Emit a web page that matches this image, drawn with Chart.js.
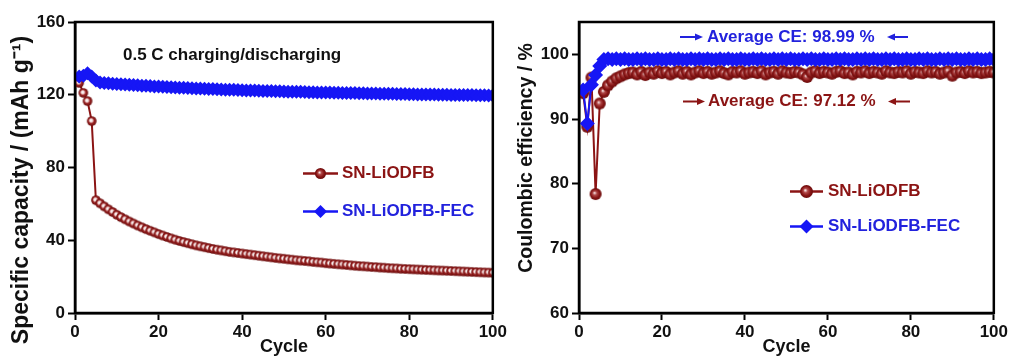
<!DOCTYPE html>
<html>
<head>
<meta charset="utf-8">
<script src="https://cdn.jsdelivr.net/npm/chart.js@4.4.1/dist/chart.umd.min.js"></script>
<style>
  html, body { margin:0; padding:0; background:#fff; }
  #wrap { position:relative; width:1010px; height:358px; overflow:hidden; }
  .box { position:absolute; top:0; height:358px; }
</style>
</head>
<body>
<div id="wrap">
  <div class="box" style="left:0;width:509px"><canvas id="c1" width="509" height="358"></canvas></div>
  <div class="box" style="left:505px;width:505px"><canvas id="c2" width="505" height="358"></canvas></div>
</div>
<script>
// ---------------- DATA ----------------
const cycles = [1,2,3,4,5,6,7,8,9,10,11,12,13,14,15,16,17,18,19,20,
21,22,23,24,25,26,27,28,29,30,31,32,33,34,35,36,37,38,39,40,
41,42,43,44,45,46,47,48,49,50,51,52,53,54,55,56,57,58,59,60,
61,62,63,64,65,66,67,68,69,70,71,72,73,74,75,76,77,78,79,80,
81,82,83,84,85,86,87,88,89,90,91,92,93,94,95,96,97,98,99,100];

const seriesNames = ['SN-LiODFB', 'SN-LiODFB-FEC'];

const capacityRed = [126.5,121.0,116.5,105.5,62.0,60.3,58.6,57.0,55.5,54.0,
52.7,51.5,50.3,49.2,48.1,47.1,46.1,45.2,44.3,43.4,
42.6,41.8,41.0,40.3,39.6,39.0,38.4,37.8,37.2,36.7,
36.2,35.7,35.2,34.8,34.4,34.0,33.6,33.3,33.0,32.7,
32.4,32.1,31.8,31.5,31.2,30.9,30.6,30.3,30.0,29.8,
29.5,29.3,29.0,28.8,28.6,28.4,28.1,27.9,27.7,27.4,
27.2,27.0,26.8,26.6,26.4,26.2,26.0,25.8,25.7,25.5,
25.3,25.2,25.0,24.9,24.7,24.6,24.5,24.3,24.2,24.1,
24.0,23.9,23.8,23.7,23.6,23.5,23.4,23.3,23.2,23.1,
23.0,22.9,22.8,22.7,22.6,22.5,22.4,22.3,22.2,22.1];

const capacityBlue = [130.0,130.5,131.8,130.0,127.8,126.8,126.5,126.3,126.1,125.9,
125.8,125.6,125.5,125.3,125.2,125.0,124.9,124.8,124.6,124.5,
124.4,124.3,124.1,124.0,123.9,123.8,123.7,123.6,123.5,123.4,
123.3,123.2,123.1,123.0,122.9,122.8,122.8,122.7,122.6,122.5,
122.4,122.4,122.3,122.2,122.1,122.1,122.0,121.9,121.9,121.8,
121.7,121.7,121.6,121.6,121.5,121.4,121.4,121.3,121.3,121.2,
121.2,121.1,121.1,121.0,121.0,120.9,120.9,120.8,120.8,120.7,
120.7,120.7,120.6,120.6,120.5,120.5,120.4,120.4,120.4,120.3,
120.3,120.2,120.2,120.2,120.1,120.1,120.0,120.0,120.0,119.9,
119.9,119.9,119.8,119.8,119.8,119.7,119.7,119.7,119.6,119.6];

const ceRed = [94.0,88.8,96.4,78.4,92.4,94.2,95.2,95.8,96.3,96.6,
96.9,97.1,97.2,96.9,97.3,96.8,97.2,97.0,97.4,97.1,
97.3,96.9,97.2,97.4,97.0,97.3,96.9,97.2,97.4,97.1,
97.3,97.0,97.2,97.4,97.1,96.9,97.3,97.2,97.4,97.0,
97.2,97.3,97.1,97.4,96.9,97.2,97.3,97.0,97.4,97.2,
97.1,97.3,97.2,96.9,96.5,97.2,97.4,97.1,97.3,97.2,
97.0,97.3,97.4,97.1,97.2,96.9,97.3,97.2,97.4,97.1,
97.3,97.2,97.0,97.4,97.2,97.1,97.3,97.2,97.4,97.0,
97.3,97.2,97.1,97.4,97.2,97.3,97.0,97.2,97.4,96.7,
97.2,97.3,97.1,97.4,97.2,97.3,97.1,97.2,97.3,97.2];

const ceBlue = [94.5,89.3,95.3,96.8,98.2,99.2,99.3,99.2,99.3,99.2,
99.3,99.2,99.2,99.3,99.2,99.3,99.2,99.2,99.3,99.2,
99.2,99.3,99.2,99.3,99.2,99.2,99.3,99.2,99.3,99.2,
99.3,99.2,99.2,99.3,99.2,99.3,99.2,99.2,99.3,99.2,
99.2,99.3,99.2,99.3,99.2,99.2,99.3,99.2,99.3,99.2,
99.3,99.2,99.2,99.3,99.2,99.3,99.2,99.2,99.3,99.2,
99.2,99.3,99.2,99.3,99.2,99.2,99.3,99.2,99.3,99.2,
99.3,99.2,99.2,99.3,99.2,99.3,99.2,99.2,99.3,99.2,
99.2,99.3,99.2,99.3,99.2,99.2,99.3,99.2,99.3,99.2,
99.3,99.2,99.2,99.3,99.2,99.3,99.2,99.2,99.3,99.2];

const xTicks = [0, 20, 40, 60, 80, 100];
const capTicks = [0, 40, 80, 120, 160];
const ceTicks = [60, 70, 80, 90, 100];

// ---------------- STYLE ----------------
const RED = '#8b1414';
const BLUE = '#1616f5';
const BLUE_TXT = '#2222dd';
const FONT = "'Liberation Sans', Arial, Helvetica, sans-serif";

function sphere(r, light) {
  const s = Math.ceil(r * 2 + 2);
  const c = document.createElement('canvas');
  c.width = s; c.height = s;
  const g = c.getContext('2d');
  const cx = s / 2;
  const grad = g.createRadialGradient(cx - r * 0.2, cx - r * 0.2, r * 0.05, cx, cx, r);
  if (light) {
    grad.addColorStop(0, '#ffffff');
    grad.addColorStop(0.3, '#f0d4d4');
    grad.addColorStop(0.55, '#9e2626');
    grad.addColorStop(1, '#6a0c0c');
  } else {
    grad.addColorStop(0, '#f6e2e2');
    grad.addColorStop(0.3, '#b04848');
    grad.addColorStop(0.7, '#861414');
    grad.addColorStop(1, '#6a0c0c');
  }
  g.fillStyle = grad;
  g.beginPath(); g.arc(cx, cx, r, 0, Math.PI * 2); g.fill();
  return c;
}

function drawDiamond(ctx, x, y, r, color) {
  ctx.fillStyle = color;
  ctx.beginPath();
  ctx.moveTo(x, y - r); ctx.lineTo(x + r, y); ctx.lineTo(x, y + r); ctx.lineTo(x - r, y);
  ctx.closePath(); ctx.fill();
}

function drawArrow(ctx, x1, x2, y, color) {
  ctx.strokeStyle = color; ctx.fillStyle = color; ctx.lineWidth = 2;
  const dir = x2 > x1 ? 1 : -1;
  ctx.beginPath(); ctx.moveTo(x1, y); ctx.lineTo(x2 - dir * 6, y); ctx.stroke();
  ctx.beginPath(); ctx.moveTo(x2, y); ctx.lineTo(x2 - dir * 8, y - 3.5); ctx.lineTo(x2 - dir * 8, y + 3.5);
  ctx.closePath(); ctx.fill();
}

const decor = {
  id: 'decor',
  afterDraw(chart, args, o) {
    const ctx = chart.ctx, a = chart.chartArea;
    ctx.save();
    ctx.lineWidth = 2.5; ctx.strokeStyle = '#000';
    ctx.strokeRect(a.left, a.top, a.right - a.left, a.bottom - a.top);
    (o.arrows || []).forEach(ar => drawArrow(ctx, ar.x1, ar.x2, ar.y, ar.color));
    (o.texts || []).forEach(t => {
      ctx.font = t.font; ctx.fillStyle = t.color;
      ctx.textBaseline = 'middle'; ctx.textAlign = 'left';
      ctx.fillText(t.text, t.x, t.y);
    });
    if (o.yTitle) {
      const t = o.yTitle;
      ctx.save();
      ctx.translate(t.x, t.y); ctx.rotate(-Math.PI / 2);
      ctx.font = t.font; ctx.fillStyle = '#111';
      ctx.textAlign = 'center'; ctx.textBaseline = 'middle';
      ctx.fillText(t.text, 0, 0);
      ctx.restore();
    }
    (o.legend || []).forEach(l => {
      ctx.strokeStyle = l.color; ctx.lineWidth = 2.5;
      ctx.beginPath(); ctx.moveTo(l.x1, l.y); ctx.lineTo(l.x2, l.y); ctx.stroke();
      const mx = (l.x1 + l.x2) / 2;
      if (l.marker === 'sphere') {
        const img = sphere(l.r, false);
        ctx.drawImage(img, mx - img.width / 2, l.y - img.height / 2);
      } else {
        drawDiamond(ctx, mx, l.y, l.r, l.color);
      }
      ctx.font = 'bold 17px ' + FONT; ctx.fillStyle = l.textColor;
      ctx.textBaseline = 'middle'; ctx.textAlign = 'left';
      ctx.fillText(l.text, l.tx, l.y);
    });
    ctx.restore();
  }
};

function pts(vals) { return cycles.map((c, i) => ({ x: c, y: vals[i] })); }

function axisCommon() {
  return {
    border: { display: true, color: '#000', width: 2.5 },
    grid: { drawOnChartArea: false, drawTicks: true, tickLength: 7, tickWidth: 2, tickColor: '#000' },
  };
}

function makeChart(id, cfg) {
  const xAxis = Object.assign(axisCommon(), {
    type: 'linear', min: 0, max: 100,
    afterBuildTicks: s => { s.ticks = xTicks.map(v => ({ value: v })); },
    afterFit: s => { s.height = 45; },
    ticks: { color: '#111', font: { family: FONT, size: 17, weight: 'bold' }, padding: 2, maxRotation: 0 },
    title: { display: true, text: 'Cycle', color: '#111', font: { family: FONT, size: 18, weight: 'bold' }, padding: { top: 0, bottom: 0 } }
  });
  const yAxis = Object.assign(axisCommon(), {
    type: 'linear', min: cfg.ymin, max: cfg.ymax,
    afterBuildTicks: s => { s.ticks = cfg.yTicks.map(v => ({ value: v })); },
    afterFit: s => { s.width = cfg.yWidth; },
    ticks: { color: '#111', font: { family: FONT, size: 17, weight: 'bold' }, padding: 3 },
    title: { display: false }
  });
  return new Chart(document.getElementById(id), {
    type: 'line',
    data: {
      datasets: [
        {
          label: seriesNames[1], data: pts(cfg.blue), order: 0,
          borderColor: BLUE, borderWidth: 2, backgroundColor: BLUE,
          pointStyle: 'rectRot', pointRadius: cfg.blueR, pointBorderWidth: 0,
          pointBackgroundColor: BLUE, tension: 0
        },
        {
          label: seriesNames[0], data: pts(cfg.red), order: 1,
          borderColor: RED, borderWidth: 2, backgroundColor: RED,
          pointStyle: sphere(cfg.redR, cfg.lightRed), pointRadius: cfg.redR, tension: 0
        }
      ]
    },
    options: {
      responsive: false, animation: false,
      layout: { padding: { left: 0, right: cfg.padRight, top: 22, bottom: 0 } },
      scales: { x: xAxis, y: yAxis },
      plugins: { legend: { display: false }, tooltip: { enabled: false }, decor: cfg.decor }
    },
    plugins: [decor]
  });
}

makeChart('c1', {
  red: capacityRed, blue: capacityBlue, ymin: 0, ymax: 160, yTicks: capTicks,
  yWidth: 75, padRight: 13,
  redR: 4.8, blueR: 7, lightRed: true,
  decor: {
    yTitle: { text: 'Specific capacity / (mAh g\u207B\u00B9)', x: 22, y: 190, font: 'bold 23px ' + FONT },
    texts: [{ text: '0.5 C charging/discharging', x: 123, y: 55, color: '#111', font: 'bold 17px ' + FONT }],
    legend: [
      { x1: 303, x2: 338, y: 173.5, r: 5.5, marker: 'sphere', color: RED, textColor: RED, text: seriesNames[0], tx: 342 },
      { x1: 303, x2: 338, y: 211.5, r: 6.5, marker: 'diamond', color: BLUE, textColor: BLUE_TXT, text: seriesNames[1], tx: 342 }
    ]
  }
});

makeChart('c2', {
  red: ceRed, blue: ceBlue, ymin: 60, ymax: 105, yTicks: ceTicks,
  yWidth: 74, padRight: 16,
  redR: 6, blueR: 7.5, lightRed: false,
  decor: {
    yTitle: { text: 'Coulombic efficiency / %', x: 22, y: 158, font: 'bold 19.5px ' + FONT },
    texts: [
      { text: 'Average CE: 98.99 %', x: 202, y: 37, color: BLUE_TXT, font: 'bold 17px ' + FONT },
      { text: 'Average CE: 97.12 %', x: 203, y: 101.5, color: RED, font: 'bold 17px ' + FONT }
    ],
    arrows: [
      { x1: 175, x2: 198, y: 37, color: BLUE_TXT },
      { x1: 403, x2: 382, y: 37, color: BLUE_TXT },
      { x1: 178, x2: 200, y: 101.5, color: RED },
      { x1: 405, x2: 383, y: 101.5, color: RED }
    ],
    legend: [
      { x1: 285, x2: 318, y: 191.5, r: 6.5, marker: 'sphere', color: RED, textColor: RED, text: seriesNames[0], tx: 323 },
      { x1: 285, x2: 318, y: 226.5, r: 7, marker: 'diamond', color: BLUE, textColor: BLUE_TXT, text: seriesNames[1], tx: 323 }
    ]
  }
});
</script>
</body>
</html>
